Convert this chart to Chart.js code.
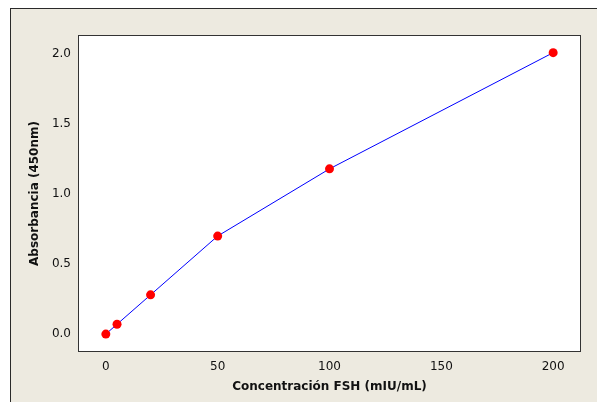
<!DOCTYPE html>
<html>
<head>
<meta charset="utf-8">
<script src="https://cdn.jsdelivr.net/npm/chart.js@4/dist/chart.umd.min.js"></script>
<style>
	html, body { margin: 0; padding: 0; background: #fff; }
	#frame {
		position: absolute; left: 10px; top: 8px;
		width: 620px; height: 420px;
		background: #edeae0;
		border: 1px solid #2a2a2a;
	}
	#wrap { position: absolute; left: 0; top: 0; width: 597px; height: 402px; }
</style>
</head>
<body>
<div id="frame"></div>
<div id="wrap"><canvas id="curve" width="597" height="402"></canvas></div>
<script>
// standard curve values
const concentracion = [0, 5, 20, 50, 100, 200];
const absorbancia = [0.0, 0.07, 0.28, 0.70, 1.18, 2.01];
const xTicks = [0, 50, 100, 150, 200];
const yTicks = [0.0, 0.5, 1.0, 1.5, 2.0];

const puntos = concentracion.map((c, i) => ({ x: c, y: absorbancia[i] }));

// white plot area + dark box
const plotBox = {
	id: 'plotBox',
	beforeDraw(chart) {
		const a = chart.chartArea;
		const c = chart.ctx;
		c.save();
		c.fillStyle = '#ffffff';
		c.fillRect(a.left, a.top, a.right - a.left, a.bottom - a.top);
		c.restore();
	},
	afterDatasetsDraw(chart) {
		const a = chart.ctx, r = chart.chartArea;
		a.save();
		a.strokeStyle = '#333333';
		a.lineWidth = 1;
		a.strokeRect(Math.round(r.left) - 0.5, Math.round(r.top) - 0.5, Math.round(r.right - r.left) + 1, Math.round(r.bottom - r.top) + 1);
		a.restore();
	}
};

const font = { family: 'DejaVu Sans', size: 12 };

var ctx = document.getElementById('curve').getContext('2d');
var myChart = new Chart(ctx, {
	type: 'scatter',
	data: {
		datasets: [{
			data: puntos,
			showLine: true,
			borderColor: '#0000ff',
			borderWidth: 1,
			backgroundColor: '#ff0000',
			pointBackgroundColor: '#ff0000',
			pointBorderColor: '#ff0000',
			pointRadius: 4.5,
			pointBorderWidth: 0,
			tension: 0
		}]
	},
	plugins: [plotBox],
	options: {
		responsive: false,
		animation: false,
		clip: false,
		layout: { padding: { left: 28, top: 36, right: 17, bottom: 8 } },
		plugins: { legend: { display: false }, tooltip: { enabled: false } },
		scales: {
			x: {
				type: 'linear',
				min: -12, max: 212,
				afterBuildTicks(s) { s.ticks = xTicks.map(v => ({ value: v })); },
				afterFit(s) { s.height = 43; },
				grid: { display: false, drawOnChartArea: false, tickLength: 5, tickColor: '#333', drawTicks: true },
				border: { display: false },
				ticks: { color: '#111', font: font, padding: 4, maxRotation: 0 },
				title: { display: true, text: 'Concentración FSH (mIU/mL)', color: '#111', font: { family: 'DejaVu Sans', size: 12, weight: 'bold' }, padding: { top: 2, bottom: 0 } }
			},
			y: {
				type: 'linear',
				min: -0.121, max: 2.129,
				afterBuildTicks(s) { s.ticks = yTicks.map(v => ({ value: v })); },
				afterFit(s) { s.width = 51; },
				grid: { display: false, drawOnChartArea: false, tickLength: 5, tickColor: '#333', drawTicks: true },
				border: { display: false },
				ticks: { color: '#111', font: font, padding: 3, callback: v => v.toFixed(1) },
				title: { display: true, text: 'Absorbancia (450nm)', color: '#111', font: { family: 'DejaVu Sans', size: 12, weight: 'bold' }, padding: { top: 0, bottom: 4 } }
			}
		}
	}
});
</script>
</body>
</html>
